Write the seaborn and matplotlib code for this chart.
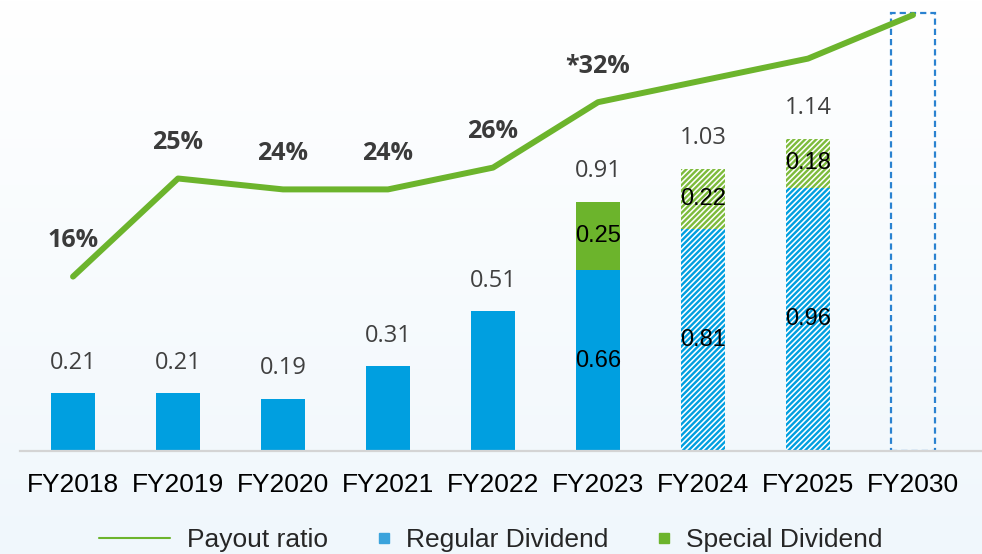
import numpy as np
import pandas as pd
import seaborn as sns
import matplotlib.pyplot as plt
import matplotlib.patches as mpatches
from matplotlib.lines import Line2D
from matplotlib.legend_handler import HandlerPatch
from matplotlib.colors import LinearSegmentedColormap

years = ["FY2018", "FY2019", "FY2020", "FY2021", "FY2022",
         "FY2023", "FY2024", "FY2025", "FY2030"]
regular = [0.21, 0.21, 0.19, 0.31, 0.51, 0.66, 0.81, 0.96]
special_years = ["FY2023", "FY2024", "FY2025"]
special = [0.25, 0.22, 0.18]
totals = [0.21, 0.21, 0.19, 0.31, 0.51, 0.91, 1.03, 1.14]
forecast_years = ["FY2024", "FY2025"]
target_year = "FY2030"
target_value = 1.6
payout = [16, 25, 24, 24, 26, 32, 34, 36, 40]
payout_labels = ["16%", "25%", "24%", "24%", "26%", "*32%", "", "", ""]

BLUE = "#009fe0"
GREEN = "#6cb42c"
HATCH_GREEN = "#7dbb3c"
DASH_BLUE = "#2a82d0"
LEG_BLUE = "#3aa3dc"

sns.set_theme(style="white")
plt.rcParams["font.family"] = ["Liberation Sans", "DejaVu Sans"]
plt.rcParams["hatch.linewidth"] = 1.7

fig = plt.figure(figsize=(9.82, 5.54), dpi=100)

# soft white-to-blue background
bg = fig.add_axes([0, 0, 1, 1], zorder=-10)
grad = np.linspace(0, 1, 256).reshape(-1, 1)
cmap = LinearSegmentedColormap.from_list("bg", ["#ffffff", "#f0f7fc"])
bg.imshow(grad, aspect="auto", cmap=cmap, extent=(0, 1, 0, 1), origin="upper")
bg.axis("off")

ax = fig.add_axes([20 / 982, 103 / 554, 962 / 982, 446 / 554])
ax.set_facecolor("none")

df = pd.DataFrame({"year": years[:len(regular)], "regular": regular})
sns.barplot(data=df, x="year", y="regular", order=years, color=BLUE,
            saturation=1, width=0.41, linewidth=0, errorbar=None, ax=ax)

for p in ax.patches:
    i = int(round(p.get_x() + p.get_width() / 2))
    if years[i] in forecast_years:
        p.set_facecolor("white")
        p.set_edgecolor(BLUE)
        p.set_hatch("//////")
        p.set_linewidth(0)

sx = [years.index(y) for y in special_years]
bottoms = [regular[i] for i in sx]
sbars = ax.bar(sx, special, bottom=bottoms, width=0.41, color=GREEN, linewidth=0)
for b, y in zip(sbars, special_years):
    if y in forecast_years:
        b.set_facecolor("white")
        b.set_edgecolor(HATCH_GREEN)
        b.set_hatch("//////")
        b.set_linewidth(0)

ax.bar(years.index(target_year), target_value, width=0.41, facecolor="none",
       edgecolor=DASH_BLUE, linestyle=(0, (2.8, 1.8)), linewidth=1.6)

# value labels
for i, v in enumerate(totals):
    ax.annotate(f"{v:.2f}", (i, v), xytext=(0, 22), textcoords="offset points",
                ha="center", va="center", fontsize=17, color="#404040",
                family="Open Sans")

for i, v in enumerate(regular):
    if years[i] in special_years:
        ax.text(i, v / 2, f"{v:.2f}", ha="center", va="center",
                fontsize=17, color="black")
for i, v, b in zip(sx, special, bottoms):
    ax.text(i, b + v / 2, f"{v:.2f}", ha="center", va="center",
            fontsize=17, color="black")

# payout ratio line
ax2 = ax.twinx()
sns.lineplot(x=np.arange(len(years)), y=payout, color=GREEN, linewidth=4.3,
             solid_capstyle="round", ax=ax2)
for i, (v, lab) in enumerate(zip(payout, payout_labels)):
    if lab:
        ax2.annotate(lab, (i, v), xytext=(0, 26), textcoords="offset points",
                     ha="center", va="center", fontsize=18, fontweight="bold",
                     color="#3b3b3b", family="Open Sans")

ax.set_ylim(0, 446 / 274)
ax2.set_ylim(0, 446 / 10.9)
ax.set_xlim(-0.505, 8.657)

for a in (ax, ax2):
    for s in a.spines.values():
        s.set_visible(False)
    a.set_yticks([])
    a.set_ylabel("")
ax.spines["bottom"].set_visible(True)
ax.spines["bottom"].set_color("#d4d4d4")
ax.spines["bottom"].set_linewidth(1.6)
ax.set_xlabel("")
ax.tick_params(axis="x", length=0, pad=16, labelsize=19, labelcolor="black")


def square_patch(legend, orig_handle, xdescent, ydescent, width, height, fontsize):
    s = 0.38 * fontsize
    return mpatches.Rectangle((width - xdescent - s, -ydescent + (height - s) / 2), s, s)


handles = [Line2D([], [], color=GREEN, lw=1.5),
           mpatches.Patch(color=LEG_BLUE),
           mpatches.Patch(color=GREEN)]
labels = ["Payout ratio", "Regular Dividend", "Special Dividend"]
fig.legend(handles, labels, loc="center", bbox_to_anchor=(0.5, 0.025), ncol=3,
           frameon=False, fontsize=19, handlelength=2.7, handletextpad=0.65,
           columnspacing=-0.4,
           handler_map={mpatches.Patch: HandlerPatch(patch_func=square_patch)})

fig.savefig("out.png", dpi=100)
